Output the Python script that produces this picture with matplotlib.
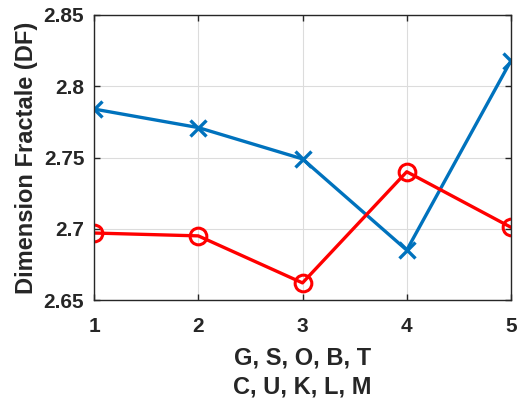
import numpy as np
import matplotlib
matplotlib.use("Agg")
from matplotlib import pyplot as plt

x = [1, 2, 3, 4, 5]
blue_vals = [2.784, 2.771, 2.749, 2.685, 2.818]
red_vals = [2.697, 2.695, 2.662, 2.740, 2.701]
yticks = [2.65, 2.7, 2.75, 2.8, 2.85]
ytick_labels = ["2.65", "2.7", "2.75", "2.8", "2.85"]

plt.rcParams['font.family'] = ['Liberation Sans', 'DejaVu Sans']
plt.rcParams['font.weight'] = 'bold'

fig = plt.figure(figsize=(5.21, 4.00), dpi=100)
ax = fig.add_axes([94/521, 1 - 300/400, (511-94)/521, (300-15)/400])

ax.plot(x, blue_vals, color='#0072BD', lw=2.4, marker='x', ms=12, mew=2.4)
ax.plot(x, red_vals, color='#FF0000', lw=2.4, marker='o', ms=12, mew=2.2,
        mfc='none')

ax.set_xlim(1, 5)
ax.set_ylim(2.65, 2.85)
ax.set_xticks(x)
ax.set_yticks(yticks)
ax.set_yticklabels(ytick_labels)
ax.grid(True, color='#dcdcdc', lw=0.8)
ax.set_axisbelow(True)
ax.tick_params(direction='in', top=True, right=True, labelsize=15,
               length=4, width=1, color='#262626')
ax.tick_params(axis='x', pad=12)
ax.tick_params(axis='y', pad=7)
for s in ax.spines.values():
    s.set_color('#262626')
    s.set_linewidth(1.0)

ax.set_xlabel("G, S, O, B, T\nC, U, K, L, M", fontsize=17,
              fontweight='bold', color='#262626', linespacing=1.3, labelpad=8)
ax.set_ylabel("Dimension Fractale (DF)", fontsize=17, fontweight='bold',
              color='#262626', labelpad=4)
for lab in ax.get_xticklabels() + ax.get_yticklabels():
    lab.set_color('#262626')
    lab.set_fontweight('bold')

fig.savefig("out.png", dpi=100)
